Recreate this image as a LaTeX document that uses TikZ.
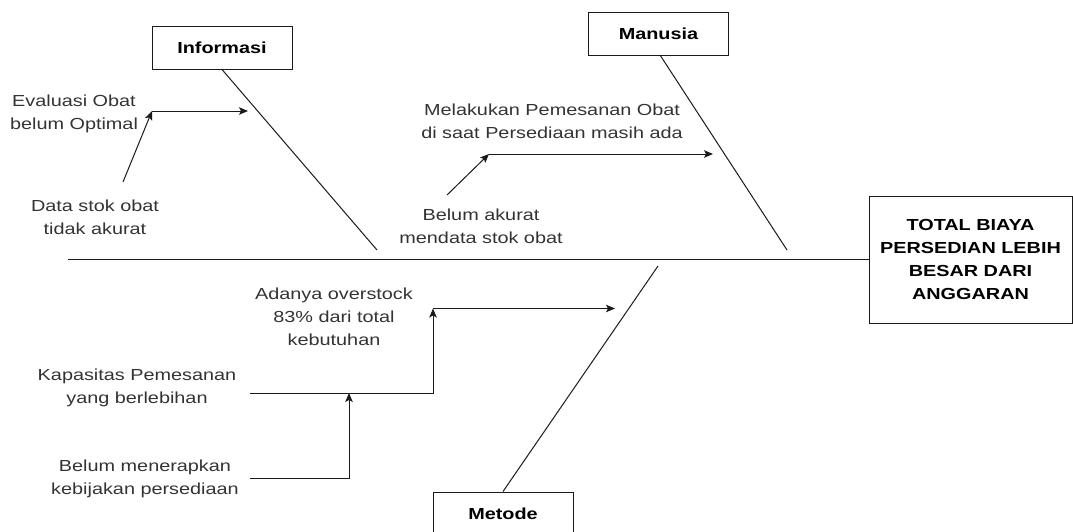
\documentclass[tikz,border=0pt]{standalone}
\usepackage{fontspec}
\setmainfont{Liberation Sans}[FakeStretch=1.24]
\usetikzlibrary{arrows.meta}
\definecolor{txt}{HTML}{333333}
\definecolor{ln}{HTML}{1A1A1A}
\tikzset{
  lbl/.style={align=center, inner sep=0pt, text=txt, font=\fontsize{16pt}{23pt}\selectfont},
  cat/.style={draw=ln, line width=1pt, minimum width=140pt, minimum height=43pt, inner sep=0pt,
              font=\fontsize{16pt}{23pt}\selectfont\bfseries},
  effbox/.style={draw=ln, line width=1pt, minimum width=203pt, minimum height=127pt, inner sep=0pt,
              align=center, font=\fontsize{16pt}{23pt}\selectfont\bfseries},
  bone/.style={draw=ln, line width=1pt},
  arr/.style={draw=ln, line width=1pt, -{Stealth[length=9pt,width=7.5pt,inset=2pt]}},
}
\begin{document}
\begin{tikzpicture}[x=1pt,y=-1pt]
\useasboundingbox (0,0) rectangle (1073,531);
\begin{scope}
\clip (0,0) rectangle (1073,531);
% effect and categories
\node[effbox] (eff) at (970.5,259.5) {TOTAL BIAYA\\PERSEDIAN LEBIH\\BESAR DARI\\ANGGARAN};
\node[cat] (info) at (222,47.5) {Informasi};
\node[cat] (man) at (658.5,33.5) {Manusia};
\node[cat] (met) at (503,513.5) {Metode};
% spine
\coordinate (spineL) at (68,259.5);
\draw[bone, line width=1.2pt] (spineL) -- (eff.west);
% bones
\coordinate (infoEnd) at (377,250);
\coordinate (manEnd) at (787,250);
\coordinate (metEnd) at (658,266);
\draw[bone] (info.south) -- (infoEnd);
\draw[bone] (660,55) coordinate (manStart) -- (manEnd);
\draw[bone] (met.north) -- (metEnd);
% labels
\node[lbl] (eval) at (74,114) {Evaluasi Obat\\belum Optimal};
\node[lbl] (data) at (95,217) {Data stok obat\\tidak akurat};
\node[lbl] (mel) at (552,121) {Melakukan Pemesanan Obat\\di saat Persediaan masih ada};
\node[lbl] (bel) at (481,226) {Belum akurat\\mendata stok obat};
\node[lbl] (ada) at (334,317) {Adanya overstock\\83\% dari total\\kebutuhan};
\node[lbl] (kap) at (137,388) {Kapasitas Pemesanan\\yang berlebihan};
\node[lbl] (bmn) at (145,479) {Belum menerapkan\\kebijakan persediaan};
% arrow points
\coordinate (evalS) at (152,111);
\coordinate (evalE) at (248,111);
\coordinate (dataS) at (123,182);
\coordinate (melS) at (489,154);
\coordinate (melE) at (713,154);
\coordinate (belS) at (447,195);
\coordinate (adaS) at (433,308.5);
\coordinate (adaE) at (615,308.5);
\coordinate (kapS) at (250,393);
\coordinate (kapJ) at (349,393);
\coordinate (bmnS) at (250,478);
% arrows
\draw[arr] (evalS) -- (evalE);
\draw[arr] (dataS) -- (evalS);
\draw[arr] (melS) -- (melE);
\draw[arr] (belS) -- (melS);
\draw[arr] (adaS) -- (adaE);
\draw[arr] (kapS) -| (adaS);
\draw[arr] (bmnS) -| (kapJ);
\end{scope}
\end{tikzpicture}
\end{document}
